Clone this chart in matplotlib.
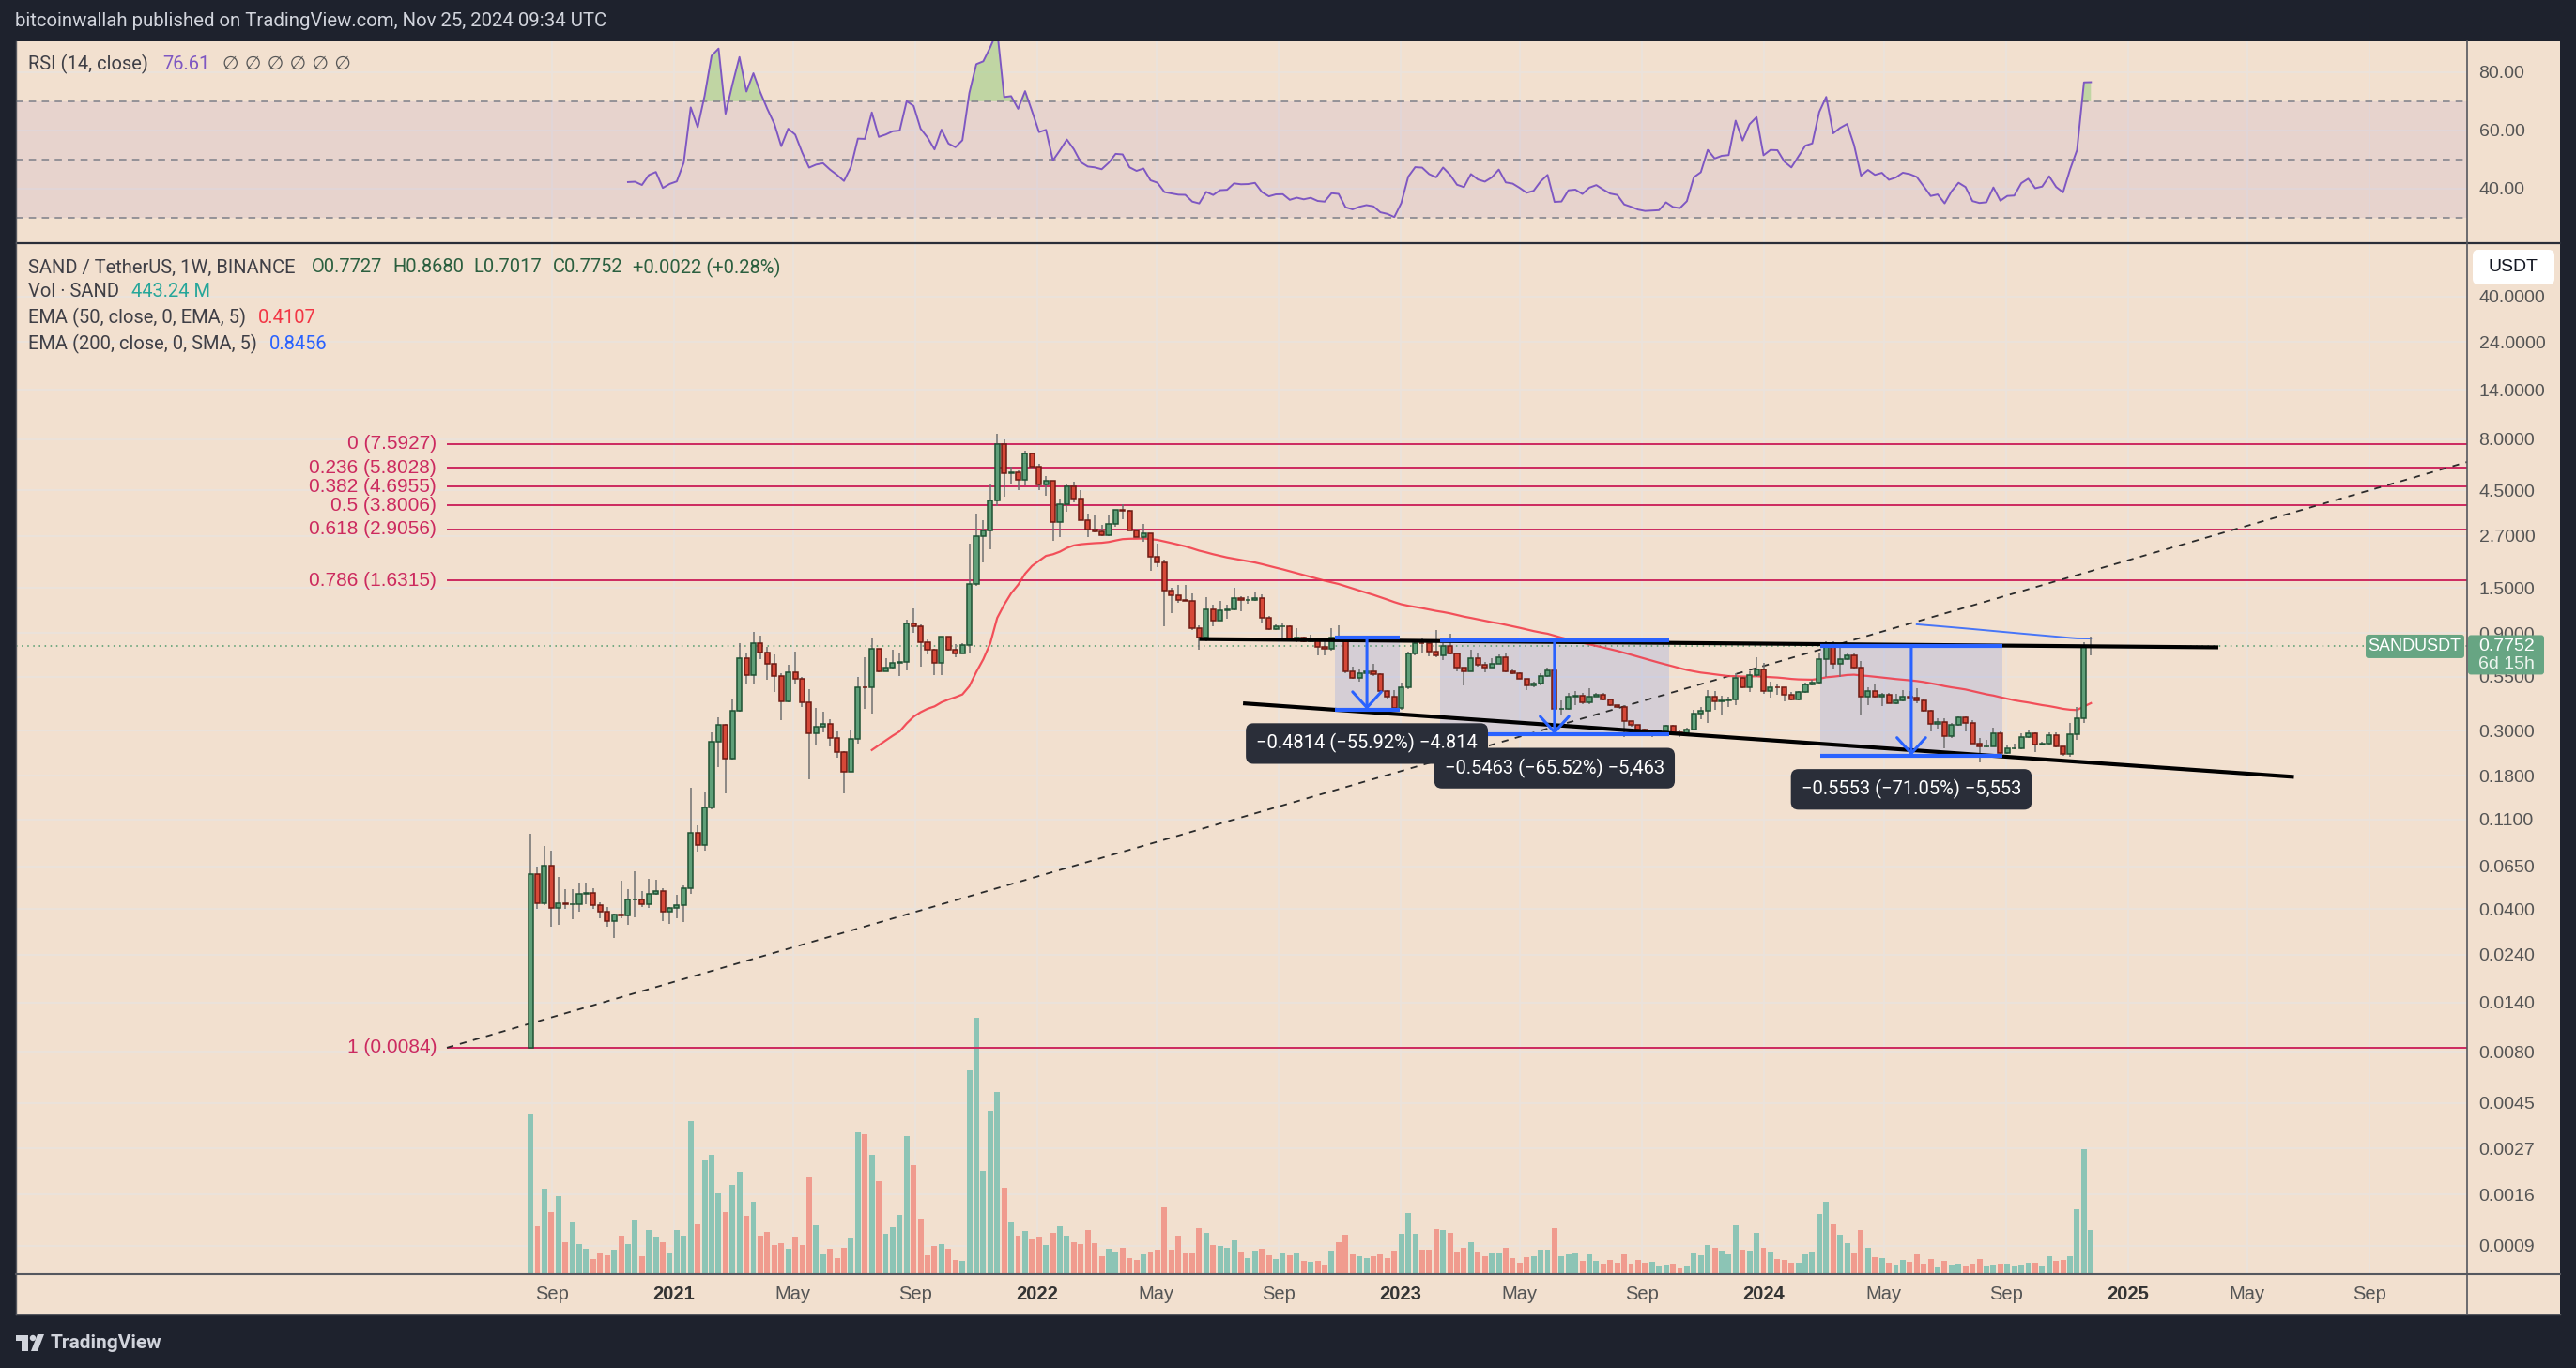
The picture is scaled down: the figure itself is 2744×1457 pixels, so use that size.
import datetime as dt
import numpy as np
import matplotlib
matplotlib.use("Agg")
import matplotlib.pyplot as plt
import matplotlib.dates as mdates
from matplotlib.patches import Rectangle, FancyBboxPatch, Polygon, Circle
from matplotlib.lines import Line2D
from matplotlib.ticker import NullLocator
from matplotlib.transforms import IdentityTransform

plt.rcParams['font.family'] = ['Liberation Sans', 'DejaVu Sans']

# ---------------------------------------------------------------- data
first_week = dt.date(2020, 8, 10)
first_open = 0.0084

closes = [
    0.0597, 0.0430, 0.0656, 0.0405, 0.0430, 0.0422, 0.0425, 0.0478, 0.0480, 0.0418,
    0.0389, 0.0349, 0.0379, 0.0372, 0.0446, 0.0448, 0.0425, 0.0475, 0.0490, 0.0388,
    0.0407, 0.0418, 0.0507, 0.0946, 0.0824, 0.126, 0.265, 0.320, 0.219, 0.375,
    0.681, 0.562, 0.807, 0.720, 0.638, 0.558, 0.418, 0.578, 0.539, 0.413,
    0.290, 0.313, 0.323, 0.275, 0.235, 0.188, 0.273, 0.489, 0.487, 0.757,
    0.585, 0.610, 0.643, 0.650, 1.008, 0.976, 0.815, 0.745, 0.647, 0.867,
    0.747, 0.714, 0.788, 1.573, 2.69, 2.86, 4.04, 7.60, 5.46, 5.55,
    5.05, 6.80, 5.90, 4.82, 5.00, 3.14, 3.87, 4.72, 4.10, 3.21,
    2.90, 2.84, 2.72, 3.08, 3.60, 3.57, 2.87, 2.67, 2.78, 2.14,
    2.00, 1.46, 1.38, 1.31, 1.30, 0.949, 0.853, 1.18, 1.04, 1.17,
    1.18, 1.34, 1.31, 1.315, 1.34, 1.07, 0.94, 0.975, 0.978, 0.828,
    0.86, 0.82, 0.84, 0.772, 0.757, 0.853, 0.84, 0.588, 0.545, 0.57,
    0.585, 0.565, 0.467, 0.44, 0.388, 0.49, 0.713, 0.805, 0.80, 0.733,
    0.70, 0.78, 0.712, 0.61, 0.585, 0.68, 0.63, 0.61, 0.638, 0.689,
    0.585, 0.575, 0.54, 0.50, 0.51, 0.557, 0.59, 0.383, 0.385, 0.44,
    0.443, 0.412, 0.44, 0.451, 0.424, 0.40, 0.392, 0.335, 0.32, 0.303,
    0.295, 0.296, 0.297, 0.316, 0.295, 0.29, 0.305, 0.362, 0.375, 0.44,
    0.415, 0.423, 0.425, 0.545, 0.49, 0.56, 0.595, 0.467, 0.49, 0.489,
    0.447, 0.425, 0.464, 0.506, 0.515, 0.67, 0.778, 0.64, 0.675, 0.70,
    0.61, 0.44, 0.47, 0.44, 0.45, 0.41, 0.42, 0.44, 0.433, 0.42,
    0.375, 0.325, 0.33, 0.283, 0.32, 0.347, 0.328, 0.26, 0.25, 0.252,
    0.292, 0.232, 0.245, 0.246, 0.278, 0.29, 0.256, 0.26, 0.285, 0.25,
    0.231, 0.287, 0.345, 0.7727, 0.7752,
]

highs = [
    0.0936, 0.065, 0.0819, 0.0777, 0.0578, 0.0503, 0.0503, 0.0543, 0.0543, 0.0505,
    0.0434, 0.0409, 0.0382, 0.0553, 0.0503, 0.0613, 0.0491, 0.0563, 0.0557, 0.0509,
    0.0412, 0.0470, 0.0523, 0.158, 0.103, 0.150, 0.293, 0.350, 0.322, 0.432,
    0.80, 0.72, 0.91, 0.875, 0.767, 0.71, 0.575, 0.632, 0.73, 0.55,
    0.479, 0.386, 0.370, 0.342, 0.298, 0.237, 0.300, 0.550, 0.689, 0.844,
    0.757, 0.676, 0.745, 0.72, 1.046, 1.19, 0.996, 0.84, 0.755, 0.87,
    0.867, 0.794, 0.80, 2.46, 3.45, 3.22, 4.82, 8.50, 8.0, 5.86,
    5.66, 7.04, 6.87, 6.07, 5.27, 5.0, 4.11, 4.82, 4.96, 4.52,
    3.45, 3.40, 3.05, 3.39, 3.62, 3.87, 3.62, 2.94, 3.10, 2.78,
    2.46, 2.07, 1.50, 1.55, 1.55, 1.41, 0.98, 1.35, 1.24, 1.29,
    1.24, 1.50, 1.37, 1.37, 1.43, 1.40, 1.09, 0.99, 1.005, 0.98,
    0.953, 0.87, 0.88, 0.86, 0.823, 0.953, 0.982, 0.86, 0.62, 0.598,
    0.642, 0.64, 0.575, 0.476, 0.475, 0.515, 0.728, 0.81, 0.853, 0.80,
    0.93, 0.80, 0.89, 0.716, 0.61, 0.745, 0.714, 0.65, 0.676, 0.706,
    0.714, 0.598, 0.58, 0.537, 0.519, 0.572, 0.61, 0.63, 0.42, 0.46,
    0.47, 0.46, 0.484, 0.46, 0.458, 0.427, 0.40, 0.40, 0.335, 0.32,
    0.308, 0.305, 0.30, 0.32, 0.32, 0.30, 0.31, 0.378, 0.392, 0.476,
    0.47, 0.443, 0.44, 0.575, 0.55, 0.585, 0.685, 0.642, 0.522, 0.507,
    0.49, 0.463, 0.47, 0.515, 0.534, 0.727, 0.823, 0.823, 0.795, 0.727,
    0.72, 0.655, 0.487, 0.505, 0.46, 0.46, 0.455, 0.476, 0.467, 0.484,
    0.43, 0.38, 0.346, 0.343, 0.326, 0.352, 0.352, 0.338, 0.275, 0.27,
    0.31, 0.296, 0.255, 0.258, 0.29, 0.30, 0.295, 0.265, 0.295, 0.295,
    0.252, 0.328, 0.39, 0.81, 0.868,
]

lows = [
    0.0084, 0.040, 0.042, 0.0330, 0.0334, 0.0403, 0.0359, 0.0388, 0.0422, 0.0403,
    0.0363, 0.0327, 0.0288, 0.0360, 0.0337, 0.0366, 0.0409, 0.0405, 0.0472, 0.0351,
    0.0339, 0.0360, 0.0345, 0.0475, 0.0763, 0.0775, 0.124, 0.198, 0.148, 0.217,
    0.370, 0.506, 0.511, 0.671, 0.534, 0.462, 0.336, 0.413, 0.506, 0.392,
    0.173, 0.256, 0.295, 0.252, 0.221, 0.148, 0.188, 0.258, 0.383, 0.363,
    0.580, 0.585, 0.604, 0.555, 0.590, 0.906, 0.617, 0.71, 0.56, 0.56,
    0.735, 0.684, 0.714, 0.714, 1.53, 2.0, 2.31, 3.79, 4.2, 4.82,
    4.5, 4.77, 5.76, 4.53, 4.23, 2.55, 2.66, 3.54, 3.95, 3.21,
    2.66, 2.80, 2.70, 2.70, 3.0, 3.25, 2.86, 2.66, 2.53, 1.82,
    1.89, 0.97, 1.13, 1.27, 1.29, 0.93, 0.75, 0.82, 0.97, 1.05,
    1.06, 1.17, 1.15, 1.26, 1.29, 1.01, 0.93, 0.93, 0.86, 0.82,
    0.81, 0.81, 0.81, 0.70, 0.70, 0.74, 0.83, 0.57, 0.535, 0.52,
    0.555, 0.555, 0.463, 0.432, 0.378, 0.38, 0.48, 0.70, 0.714, 0.694,
    0.685, 0.665, 0.705, 0.588, 0.50, 0.585, 0.614, 0.577, 0.61, 0.635,
    0.577, 0.568, 0.535, 0.476, 0.49, 0.50, 0.55, 0.33, 0.36, 0.38,
    0.40, 0.405, 0.405, 0.44, 0.42, 0.395, 0.388, 0.28, 0.315, 0.30,
    0.287, 0.278, 0.29, 0.293, 0.29, 0.28, 0.285, 0.30, 0.34, 0.326,
    0.378, 0.36, 0.392, 0.40, 0.485, 0.462, 0.548, 0.456, 0.435, 0.45,
    0.418, 0.42, 0.42, 0.46, 0.50, 0.505, 0.548, 0.598, 0.55, 0.665,
    0.595, 0.36, 0.40, 0.435, 0.395, 0.41, 0.406, 0.415, 0.428, 0.41,
    0.372, 0.296, 0.306, 0.245, 0.275, 0.317, 0.296, 0.258, 0.21, 0.247,
    0.25, 0.23, 0.231, 0.243, 0.244, 0.277, 0.235, 0.254, 0.256, 0.248,
    0.226, 0.223, 0.27, 0.326, 0.7017,
]

volumes_m = [
    1642, 480, 864, 624, 787, 317, 528, 298, 250, 144,
    202, 182, 240, 384, 298, 547, 173, 442, 374, 317,
    211, 442, 384, 1565, 499, 1162, 1219, 816, 624, 902,
    1037, 586, 730, 384, 422, 288, 307, 250, 365, 288,
    979, 490, 192, 250, 154, 259, 355, 1450, 1430, 1219,
    941, 403, 470, 595, 1411, 1104, 557, 182, 278, 298,
    250, 134, 125, 2083, 2621, 1046, 1670, 1862, 874, 518,
    384, 432, 346, 365, 288, 413, 480, 384, 317, 298,
    442, 307, 173, 250, 221, 259, 154, 134, 192, 221,
    240, 682, 240, 384, 202, 211, 461, 413, 288, 278,
    259, 336, 221, 154, 230, 250, 182, 144, 211, 182,
    211, 125, 115, 125, 86, 230, 317, 394, 192, 173,
    154, 173, 192, 154, 230, 403, 614, 403, 240, 240,
    451, 442, 413, 221, 259, 317, 221, 173, 202, 211,
    259, 154, 106, 163, 173, 240, 240, 461, 173, 192,
    202, 125, 192, 125, 96, 134, 106, 192, 96, 134,
    106, 115, 77, 86, 96, 58, 77, 211, 182, 288,
    259, 230, 192, 490, 240, 230, 413, 259, 221, 144,
    134, 106, 106, 192, 221, 605, 730, 499, 394, 307,
    211, 442, 259, 163, 154, 106, 86, 134, 115, 192,
    96, 144, 67, 125, 86, 96, 77, 96, 144, 77,
    86, 96, 96, 77, 86, 106, 106, 77, 173, 125,
    134, 173, 653, 1277, 443,
]

fib_ratios = ["0", "0.236", "0.382", "0.5", "0.618", "0.786", "1"]
fib_prices = [7.5927, 5.8028, 4.6955, 3.8006, 2.9056, 1.6315, 0.0084]
fib_start = dt.date(2020, 5, 18)
fib_trend = [(dt.date(2020, 5, 18), 0.0084), (dt.date(2025, 12, 8), 6.2)]
resistance = [(dt.date(2022, 6, 13), 0.842), (dt.date(2025, 4, 2), 0.767)]
support = [(dt.date(2022, 7, 27), 0.408), (dt.date(2025, 6, 17), 0.178)]

ranges = [
    (dt.date(2022, 10, 27), dt.date(2022, 12, 31), 0.8609, 0.3795, "\u22120.4814 (\u221255.92%) \u22124.814"),
    (dt.date(2023, 2, 10), dt.date(2023, 9, 28), 0.8338, 0.2875, "\u22120.5463 (\u221265.52%) \u22125,463"),
    (dt.date(2024, 2, 27), dt.date(2024, 8, 28), 0.7816, 0.2263, "\u22120.5553 (\u221271.05%) \u22125,553"),
]

price_ticks = [40, 24, 14, 8, 4.5, 2.7, 1.5, 0.9, 0.55, 0.3, 0.18, 0.11, 0.065,
               0.04, 0.024, 0.014, 0.008, 0.0045, 0.0027, 0.0016, 0.0009]
rsi_ticks = [80, 60, 40]
time_ticks = [
    (dt.date(2020, 9, 1), "Sep"), (dt.date(2021, 1, 1), "2021"), (dt.date(2021, 5, 1), "May"),
    (dt.date(2021, 9, 1), "Sep"), (dt.date(2022, 1, 1), "2022"), (dt.date(2022, 5, 1), "May"),
    (dt.date(2022, 9, 1), "Sep"), (dt.date(2023, 1, 1), "2023"), (dt.date(2023, 5, 1), "May"),
    (dt.date(2023, 9, 1), "Sep"), (dt.date(2024, 1, 1), "2024"), (dt.date(2024, 5, 1), "May"),
    (dt.date(2024, 9, 1), "Sep"), (dt.date(2025, 1, 1), "2025"), (dt.date(2025, 5, 1), "May"),
    (dt.date(2025, 9, 1), "Sep"),
]

# ---------------------------------------------------------------- style
W, H = 2744, 1457
BG = '#f2e0cf'
DARK = '#1e222d'
GRID = '#ebe3dc'
AXTXT = '#555555'
GREEN = '#5f9f78'
GREEN_E = '#1f5233'
RED = '#d64838'
RED_E = '#6e1a12'
WICK = '#707070'
VOL_UP = '#8cc4b5'
VOL_DN = '#f09b8e'
FIB = '#cc2a5f'
BLUE = '#2962ff'
PURPLE = '#7e57c2'
LEG = '#3f3f46'
XLIM = (mdates.date2num(dt.date(2019, 3, 12)), mdates.date2num(dt.date(2025, 12, 8)))
YLIM = (0.000661, 73.1)
RSI_YLIM = (21.3, 90.6)
VOL_AXIS_MAX = 10575

fig = plt.figure(figsize=(W / 100, H / 100), dpi=100, facecolor=DARK)


def fx(px):
    return px / W


def fy(py):
    return 1 - py / H


def rect_fig(x0, y0, x1, y1):
    return [fx(x0), fy(y1), fx(x1) - fx(x0), fy(y0) - fy(y1)]


fig.add_artist(Rectangle((fx(17), fy(1400)), fx(2727) - fx(17), fy(44) - fy(1400),
                         transform=fig.transFigure, facecolor=BG, edgecolor='none', zorder=-5))

rsi_ax = fig.add_axes(rect_fig(17, 44, 2628, 259))
ax_bg = fig.add_axes(rect_fig(17, 259, 2628, 1356))
ax_vol = fig.add_axes(rect_fig(17, 259, 2628, 1356))
ax = fig.add_axes(rect_fig(17, 259, 2628, 1356))
for a in (rsi_ax, ax_bg, ax_vol, ax):
    a.set_facecolor('none')
    for s in a.spines.values():
        s.set_visible(False)
    a.set_xlim(XLIM)

n = len(closes)
x = mdates.date2num([first_week + dt.timedelta(days=7 * i) for i in range(n)])
c = np.array(closes)
o = np.array([first_open] + closes[:-1])
h = np.array(highs)
l = np.array(lows)
up = c >= o

# ---------------------------------------------------------------- background grid + axis labels
tick_nums = [mdates.date2num(d) for d, _ in time_ticks]
ax_bg.set_yscale('log')
ax_bg.set_ylim(YLIM)
ax_bg.yaxis.tick_right()
ax_bg.set_yticks(price_ticks)
ax_bg.set_yticklabels([f"{v:.4f}" for v in price_ticks])
ax_bg.yaxis.set_minor_locator(NullLocator())
ax_bg.set_xticks(tick_nums)
ax_bg.set_xticklabels([t for _, t in time_ticks])
ax_bg.tick_params(axis='y', length=0, pad=9, labelsize=14, labelcolor=AXTXT)
ax_bg.tick_params(axis='x', length=0, pad=9, labelsize=14.5, labelcolor=AXTXT)
for lab in ax_bg.get_xticklabels():
    if lab.get_text().isdigit():
        lab.set_fontweight('bold')
        lab.set_color('#333333')
ax_bg.grid(True, color=GRID, lw=1.3)
ax_bg.set_axisbelow(True)

# ---------------------------------------------------------------- volume
ax_vol.bar(x, volumes_m, width=5.6, color=[VOL_UP if u else VOL_DN for u in up], linewidth=0)
ax_vol.set_ylim(0, VOL_AXIS_MAX)
ax_vol.set_xticks([])
ax_vol.set_yticks([])

# ---------------------------------------------------------------- main price pane
ax.set_yscale('log')
ax.set_xticks([])
ax.set_yticks([])
ax.yaxis.set_minor_locator(NullLocator())

# fib levels
ax.hlines(fib_prices, mdates.date2num(fib_start), XLIM[1], colors=FIB, lw=1.4, zorder=2)
for r, p in zip(fib_ratios, fib_prices):
    ax.annotate(f"{r} ({p:.4f})", xy=(mdates.date2num(fib_start), p), xytext=(-11, 0),
                textcoords='offset pixels', ha='right', va='center', color=FIB, fontsize=15)
ax.plot([mdates.date2num(d) for d, _ in fib_trend], [p for _, p in fib_trend],
        color='#2b2b2b', lw=1.3, ls=(0, (4, 4)), zorder=2)

# last price line
ax.axhline(c[-1], color='#4f9a6c', lw=1.1, ls=(0, (1, 3)), zorder=2)

# range boxes
for d0, d1, top, bot, lab in ranges:
    x0, x1 = mdates.date2num(d0), mdates.date2num(d1)
    ax.add_patch(Rectangle((x0, bot), x1 - x0, top - bot, facecolor=(0.16, 0.38, 1.0, 0.14),
                           edgecolor='none', zorder=1))

# EMAs
def ema_seeded(vals, length):
    out = np.full(len(vals), np.nan)
    out[length - 1] = np.mean(vals[:length])
    a = 2.0 / (length + 1)
    for i in range(length, len(vals)):
        out[i] = a * vals[i] + (1 - a) * out[i - 1]
    return out


ema50 = ema_seeded(c, 50)
ema200 = ema_seeded(c, 200)
ax.plot(x, ema50, color='#f23645', lw=1.6, alpha=0.85, zorder=3)
ax.plot(x, ema200, color=BLUE, lw=1.4, alpha=0.85, zorder=3)

# candles
ax.vlines(x, l, h, colors=WICK, lw=1.1, zorder=4)
ax.bar(x[up], (c - o)[up], bottom=o[up], width=4.8, color=GREEN, edgecolor=GREEN_E, lw=1.1, zorder=5)
ax.bar(x[~up], (o - c)[~up], bottom=c[~up], width=4.8, color=RED, edgecolor=RED_E, lw=1.1, zorder=5)

# trend lines
for seg in (resistance, support):
    ax.plot([mdates.date2num(d) for d, _ in seg], [p for _, p in seg], color='black', lw=3, zorder=6,
            solid_capstyle='butt')

# range tool lines, arrows and labels
for d0, d1, top, bot, lab in ranges:
    x0, x1 = mdates.date2num(d0), mdates.date2num(d1)
    cx = (x0 + x1) / 2
    ax.hlines([top, bot], x0, x1, colors=BLUE, lw=3, zorder=7)
    ax.annotate('', xy=(cx, bot), xytext=(cx, top),
                arrowprops=dict(arrowstyle='->,head_length=0.55,head_width=0.5', color=BLUE, lw=2.2,
                                mutation_scale=22, shrinkA=0, shrinkB=0), zorder=7)
for d0, d1, top, bot, lab in ranges:
    cx = (mdates.date2num(d0) + mdates.date2num(d1)) / 2
    ax.annotate(lab, xy=(cx, bot), xytext=(0, -36), textcoords='offset pixels', ha='center', va='center',
                color='white', fontsize=14.5, family=['Roboto', 'DejaVu Sans'], zorder=8,
                bbox=dict(boxstyle='round,pad=0.55,rounding_size=0.4', fc='#2a2e39', ec='none'))

ax.set_xlim(XLIM)
ax.set_ylim(YLIM)

# ---------------------------------------------------------------- RSI pane
def rsi_calc(vals, length=14):
    d = np.diff(vals)
    g = np.clip(d, 0, None)
    ls = np.clip(-d, 0, None)
    out = np.full(len(vals), np.nan)
    ag, al = g[:length].mean(), ls[:length].mean()
    out[length] = 100 - 100 / (1 + ag / al)
    for i in range(length + 1, len(vals)):
        ag = (ag * (length - 1) + g[i - 1]) / length
        al = (al * (length - 1) + ls[i - 1]) / length
        out[i] = 100.0 if al == 0 else 100 - 100 / (1 + ag / al)
    return out


rsi = rsi_calc(c)
rsi_ax.set_ylim(RSI_YLIM)
rsi_ax.yaxis.tick_right()
rsi_ax.set_yticks(rsi_ticks)
rsi_ax.set_yticklabels([f"{v:.2f}" for v in rsi_ticks])
rsi_ax.set_xticks(tick_nums)
rsi_ax.set_xticklabels([])
rsi_ax.tick_params(axis='both', length=0)
rsi_ax.tick_params(axis='y', pad=9, labelsize=14, labelcolor=AXTXT)
rsi_ax.grid(True, color=GRID, lw=1.3)
rsi_ax.set_axisbelow(True)
rsi_ax.axhspan(30, 70, color=PURPLE, alpha=0.09, lw=0)
for lvl in (70, 50, 30):
    rsi_ax.axhline(lvl, color='#7d7f88', lw=1.1, ls=(0, (5, 4)))
valid = np.nan_to_num(rsi, nan=50.0)
rsi_ax.fill_between(x, valid, 70, where=valid > 70, interpolate=True, color='#9fce86', alpha=0.6, lw=0)
rsi_ax.fill_between(x, valid, 30, where=valid < 30, interpolate=True, color='#ef9a9a', alpha=0.6, lw=0)
rsi_ax.plot(x, rsi, color=PURPLE, lw=1.4)
rsi_ax.set_xlim(XLIM)

# ---------------------------------------------------------------- separators
def fig_line(x0, y0, x1, y1, color, lw):
    fig.add_artist(Line2D([fx(x0), fx(x1)], [fy(y0), fy(y1)], transform=fig.transFigure, color=color, lw=lw))


fig_line(17, 259, 2727, 259, '#2a2e39', 1.6)
fig_line(17, 1356.5, 2727, 1356.5, '#55575e', 1.5)
fig_line(2628, 44, 2628, 1400, '#55575e', 1.2)
fig_line(17, 44, 17, 1400, '#55575e', 1.0)
fig_line(17, 1400, 2727, 1400, '#55575e', 1.0)

# ---------------------------------------------------------------- labels in pixel space
def pbox(x0, y0, x1, y1, fc, r=4):
    fig.add_artist(FancyBboxPatch((x0, H - y1), x1 - x0, y1 - y0, boxstyle=f"round,pad=0,rounding_size={r}",
                                  transform=IdentityTransform(), facecolor=fc, edgecolor='none', zorder=10))


pbox(2634, 266, 2721, 303, 'white', r=6)
fig.text(fx(2677), fy(284.5), "USDT", ha='center', va='center', fontsize=14, color='#131722', zorder=11)

y_last = H - ax.transData.transform((x[-1], c[-1]))[1]
pbox(2520, y_last - 12.5, 2625, y_last + 12.5, '#67a583', r=3)
fig.text(fx(2572), fy(y_last), "SANDUSDT", ha='center', va='center', fontsize=13, color='white', zorder=11)
pbox(2629, y_last - 12, 2710, y_last + 30, '#67a583', r=3)
fig.text(fx(2640), fy(y_last), f"{c[-1]:.4f}", ha='left', va='center', fontsize=14, color='white', zorder=11)
fig.text(fx(2640), fy(y_last + 19), "6d 15h", ha='left', va='center', fontsize=14, color='#eef5ef', zorder=11)

renderer = fig.canvas.get_renderer()
LEG_FONT = ['Roboto', 'DejaVu Sans']


def seg_text(x_px, y_px, parts, size):
    xx = x_px
    for txt, col, gap, fam in parts:
        t = fig.text(fx(xx), fy(y_px), txt, color=col, fontsize=size, family=fam, va='center', ha='left')
        xx += t.get_window_extent(renderer).width + gap


fig.text(fx(16), fy(23), "bitcoinwallah published on TradingView.com, Nov 25, 2024 09:34 UTC",
         color='#d1d4dc', fontsize=14.7, family=LEG_FONT, va='center', ha='left')

seg_text(30, 68, [("RSI (14, close)", LEG, 15, LEG_FONT), ("76.61", PURPLE, 14, LEG_FONT),
                  ("\u2205 \u2205 \u2205 \u2205 \u2205 \u2205", '#555555', 0, ['DejaVu Sans'])], 14.5)
GV = '#2b5f3f'
seg_text(30, 285, [("SAND / TetherUS, 1W, BINANCE", LEG, 17, LEG_FONT), ("O0.7727", GV, 11, LEG_FONT),
                   ("H0.8680", GV, 11, LEG_FONT), ("L0.7017", GV, 11, LEG_FONT), ("C0.7752", GV, 11, LEG_FONT),
                   ("+0.0022 (+0.28%)", GV, 0, LEG_FONT)], 14.5)
seg_text(30, 311, [("Vol \u00b7 SAND", LEG, 13, LEG_FONT), ("443.24 M", '#26a69a', 0, LEG_FONT)], 14.5)
seg_text(30, 338, [("EMA (50, close, 0, EMA, 5)", LEG, 13, LEG_FONT), ("0.4107", '#f23645', 0, LEG_FONT)], 14.5)
seg_text(30, 366, [("EMA (200, close, 0, SMA, 5)", LEG, 13, LEG_FONT), ("0.8456", BLUE, 0, LEG_FONT)], 14.5)

# TradingView logo at the bottom
logo_col = '#d1d4dc'
fig.add_artist(Rectangle((17, H - 1428), 13, 6, transform=IdentityTransform(), fc=logo_col, ec='none'))
fig.add_artist(Rectangle((23, H - 1439), 7, 17, transform=IdentityTransform(), fc=logo_col, ec='none'))
fig.add_artist(Circle((35, H - 1425), 3.2, transform=IdentityTransform(), fc=logo_col, ec='none'))
fig.add_artist(Polygon([(33, H - 1439), (40, H - 1421), (47, H - 1421), (40, H - 1439)],
                       closed=True, transform=IdentityTransform(), fc=logo_col, ec='none'))
fig.text(fx(54), fy(1430), "TradingView", color=logo_col, fontsize=15, family=LEG_FONT,
         fontweight='bold', va='center', ha='left')

fig.savefig("out.png", dpi=100, facecolor=fig.get_facecolor())
